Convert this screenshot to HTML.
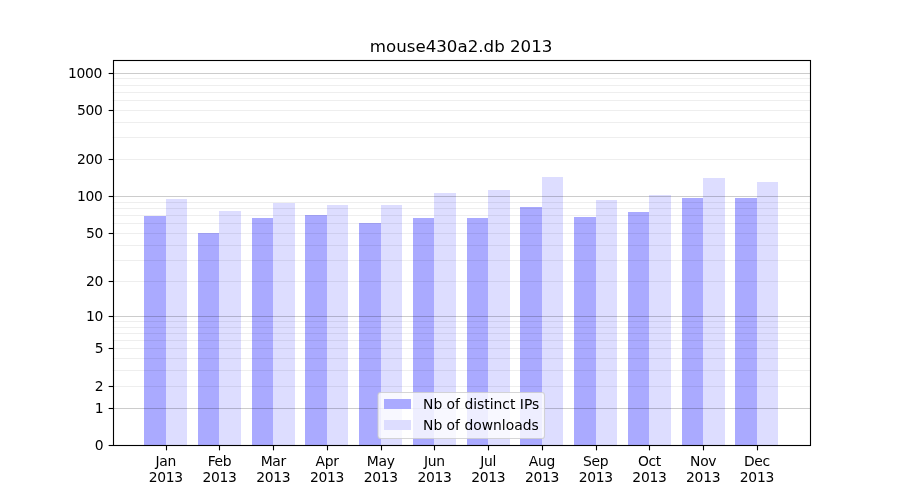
<!DOCTYPE html>
<html lang="en"><head><meta charset="utf-8"><title>mouse430a2.db 2013</title>
<style>html,body{margin:0;padding:0;background:#fff;}body{width:900px;height:500px;overflow:hidden;}svg{display:block;will-change:transform;}text{font-family:"DejaVu Sans","Liberation Sans",sans-serif;fill:#000;}</style></head><body>
<svg width="900" height="500" viewBox="0 0 900 500">
<rect x="0" y="0" width="900" height="500" fill="#ffffff"/>
<g shape-rendering="crispEdges">
<rect x="144" y="216" width="22" height="229" fill="#aaaaff"/>
<rect x="166" y="199" width="21" height="246" fill="#ddddff"/>
<rect x="198" y="233" width="21" height="212" fill="#aaaaff"/>
<rect x="219" y="211" width="22" height="234" fill="#ddddff"/>
<rect x="252" y="218" width="21" height="227" fill="#aaaaff"/>
<rect x="273" y="203" width="22" height="242" fill="#ddddff"/>
<rect x="305" y="215" width="22" height="230" fill="#aaaaff"/>
<rect x="327" y="205" width="21" height="240" fill="#ddddff"/>
<rect x="359" y="223" width="22" height="222" fill="#aaaaff"/>
<rect x="381" y="205" width="21" height="240" fill="#ddddff"/>
<rect x="413" y="218" width="21" height="227" fill="#aaaaff"/>
<rect x="434" y="193" width="22" height="252" fill="#ddddff"/>
<rect x="467" y="218" width="21" height="227" fill="#aaaaff"/>
<rect x="488" y="190" width="22" height="255" fill="#ddddff"/>
<rect x="520" y="207" width="22" height="238" fill="#aaaaff"/>
<rect x="542" y="177" width="21" height="268" fill="#ddddff"/>
<rect x="574" y="217" width="22" height="228" fill="#aaaaff"/>
<rect x="596" y="200" width="21" height="245" fill="#ddddff"/>
<rect x="628" y="212" width="21" height="233" fill="#aaaaff"/>
<rect x="649" y="195" width="22" height="250" fill="#ddddff"/>
<rect x="682" y="198" width="21" height="247" fill="#aaaaff"/>
<rect x="703" y="178" width="22" height="267" fill="#ddddff"/>
<rect x="735" y="198" width="22" height="247" fill="#aaaaff"/>
<rect x="757" y="182" width="21" height="263" fill="#ddddff"/>
</g>
<g stroke="#000" stroke-width="1.11" fill="none">
<line x1="112.5" x2="810.0" y1="386.5" y2="386.5" stroke-opacity="0.065"/>
<line x1="112.5" x2="810.0" y1="370.5" y2="370.5" stroke-opacity="0.065"/>
<line x1="112.5" x2="810.0" y1="358.5" y2="358.5" stroke-opacity="0.065"/>
<line x1="112.5" x2="810.0" y1="348.5" y2="348.5" stroke-opacity="0.065"/>
<line x1="112.5" x2="810.0" y1="340.5" y2="340.5" stroke-opacity="0.065"/>
<line x1="112.5" x2="810.0" y1="333.5" y2="333.5" stroke-opacity="0.065"/>
<line x1="112.5" x2="810.0" y1="327.5" y2="327.5" stroke-opacity="0.065"/>
<line x1="112.5" x2="810.0" y1="321.5" y2="321.5" stroke-opacity="0.065"/>
<line x1="112.5" x2="810.0" y1="281.5" y2="281.5" stroke-opacity="0.065"/>
<line x1="112.5" x2="810.0" y1="260.5" y2="260.5" stroke-opacity="0.065"/>
<line x1="112.5" x2="810.0" y1="245.5" y2="245.5" stroke-opacity="0.065"/>
<line x1="112.5" x2="810.0" y1="233.5" y2="233.5" stroke-opacity="0.065"/>
<line x1="112.5" x2="810.0" y1="223.5" y2="223.5" stroke-opacity="0.065"/>
<line x1="112.5" x2="810.0" y1="215.5" y2="215.5" stroke-opacity="0.065"/>
<line x1="112.5" x2="810.0" y1="208.5" y2="208.5" stroke-opacity="0.065"/>
<line x1="112.5" x2="810.0" y1="202.5" y2="202.5" stroke-opacity="0.065"/>
<line x1="112.5" x2="810.0" y1="159.5" y2="159.5" stroke-opacity="0.065"/>
<line x1="112.5" x2="810.0" y1="137.5" y2="137.5" stroke-opacity="0.065"/>
<line x1="112.5" x2="810.0" y1="122.5" y2="122.5" stroke-opacity="0.065"/>
<line x1="112.5" x2="810.0" y1="110.5" y2="110.5" stroke-opacity="0.065"/>
<line x1="112.5" x2="810.0" y1="100.5" y2="100.5" stroke-opacity="0.065"/>
<line x1="112.5" x2="810.0" y1="92.5" y2="92.5" stroke-opacity="0.065"/>
<line x1="112.5" x2="810.0" y1="85.5" y2="85.5" stroke-opacity="0.065"/>
<line x1="112.5" x2="810.0" y1="78.5" y2="78.5" stroke-opacity="0.065"/>
<line x1="112.5" x2="810.0" y1="408.5" y2="408.5" stroke-opacity="0.2"/>
<line x1="112.5" x2="810.0" y1="316.5" y2="316.5" stroke-opacity="0.2"/>
<line x1="112.5" x2="810.0" y1="196.5" y2="196.5" stroke-opacity="0.2"/>
<line x1="112.5" x2="810.0" y1="73.5" y2="73.5" stroke-opacity="0.2"/>
</g>
<g stroke="#000" stroke-width="1.11" fill="none">
<line x1="108.64" x2="113.50" y1="445.5" y2="445.5"/>
<line x1="108.64" x2="113.50" y1="408.5" y2="408.5"/>
<line x1="108.64" x2="113.50" y1="386.5" y2="386.5"/>
<line x1="108.64" x2="113.50" y1="348.5" y2="348.5"/>
<line x1="108.64" x2="113.50" y1="316.5" y2="316.5"/>
<line x1="108.64" x2="113.50" y1="281.5" y2="281.5"/>
<line x1="108.64" x2="113.50" y1="233.5" y2="233.5"/>
<line x1="108.64" x2="113.50" y1="196.5" y2="196.5"/>
<line x1="108.64" x2="113.50" y1="159.5" y2="159.5"/>
<line x1="108.64" x2="113.50" y1="110.5" y2="110.5"/>
<line x1="108.64" x2="113.50" y1="73.5" y2="73.5"/>
<line x1="166.5" x2="166.5" y1="445.5" y2="450.36"/>
<line x1="219.5" x2="219.5" y1="445.5" y2="450.36"/>
<line x1="273.5" x2="273.5" y1="445.5" y2="450.36"/>
<line x1="327.5" x2="327.5" y1="445.5" y2="450.36"/>
<line x1="381.5" x2="381.5" y1="445.5" y2="450.36"/>
<line x1="434.5" x2="434.5" y1="445.5" y2="450.36"/>
<line x1="488.5" x2="488.5" y1="445.5" y2="450.36"/>
<line x1="542.5" x2="542.5" y1="445.5" y2="450.36"/>
<line x1="596.5" x2="596.5" y1="445.5" y2="450.36"/>
<line x1="649.5" x2="649.5" y1="445.5" y2="450.36"/>
<line x1="703.5" x2="703.5" y1="445.5" y2="450.36"/>
<line x1="757.5" x2="757.5" y1="445.5" y2="450.36"/>
<rect x="113.5" y="60.5" width="697" height="385" stroke-linejoin="miter"/>
</g>
<g font-size="13.889px" text-anchor="end" letter-spacing="-0.3">
<text x="103.3" y="450">0</text>
<text x="103.3" y="413">1</text>
<text x="103.3" y="391">2</text>
<text x="103.3" y="353">5</text>
<text x="103.0" y="321">10</text>
<text x="103.0" y="286">20</text>
<text x="103.0" y="238">50</text>
<text x="102.6" y="201">100</text>
<text x="102.6" y="164">200</text>
<text x="102.6" y="115">500</text>
<text x="102.1" y="78">1000</text>
</g>
<g font-size="13.889px" text-anchor="middle" letter-spacing="-0.3">
<text x="165.8" y="466">Jan</text>
<text x="165.8" y="482">2013</text>
<text x="219.54" y="466">Feb</text>
<text x="219.54" y="482">2013</text>
<text x="273.27" y="466">Mar</text>
<text x="273.27" y="482">2013</text>
<text x="327.01" y="466">Apr</text>
<text x="327.01" y="482">2013</text>
<text x="380.75" y="466">May</text>
<text x="380.75" y="482">2013</text>
<text x="434.48" y="466">Jun</text>
<text x="434.48" y="482">2013</text>
<text x="488.22" y="466">Jul</text>
<text x="488.22" y="482">2013</text>
<text x="541.95" y="466">Aug</text>
<text x="541.95" y="482">2013</text>
<text x="595.69" y="466">Sep</text>
<text x="595.69" y="482">2013</text>
<text x="649.43" y="466">Oct</text>
<text x="649.43" y="482">2013</text>
<text x="703.16" y="466">Nov</text>
<text x="703.16" y="482">2013</text>
<text x="756.9" y="466">Dec</text>
<text x="756.9" y="482">2013</text>
</g>
<text x="461.1" y="52" font-size="16.667px" text-anchor="middle">mouse430a2.db 2013</text>
<rect x="378" y="392.5" width="166.5" height="46" rx="2.8" ry="2.8" fill="#ffffff" fill-opacity="0.8" stroke="#cccccc" stroke-opacity="0.8" stroke-width="1.11"/>
<g shape-rendering="crispEdges">
<rect x="384" y="399" width="27" height="10" fill="#aaaaff"/>
<rect x="384" y="420" width="27" height="10" fill="#ddddff"/>
</g>
<g font-size="13.889px">
<text x="423" y="409">Nb of distinct IPs</text>
<text x="423" y="429.5">Nb of downloads</text>
</g>
</svg></body></html>
